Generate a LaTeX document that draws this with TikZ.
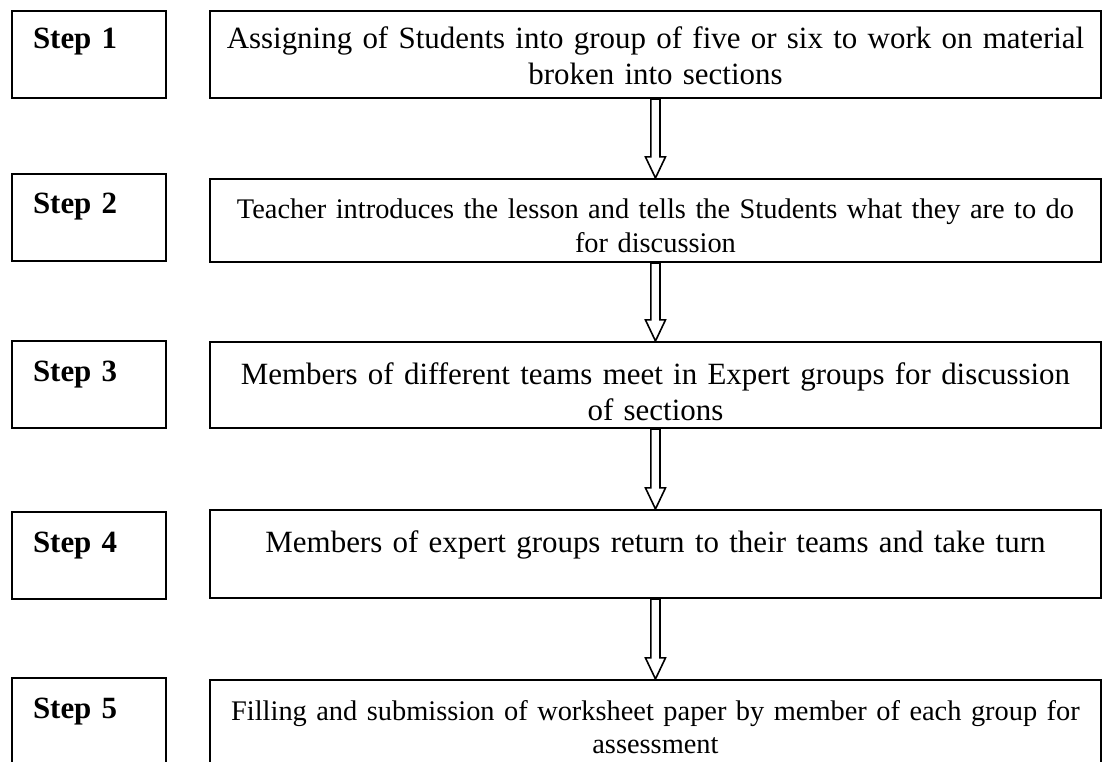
\documentclass[tikz,border=0pt]{standalone}
\usepackage{fontspec}
\setmainfont{Liberation Serif}
\usetikzlibrary{calc}

\begin{document}
\begin{tikzpicture}[
  x=0.375pt, y=-0.375pt,
  font=\fontsize{11.6}{13.6}\selectfont,
  stepbox/.style={draw, line width=0.75pt, anchor=north west,
                  inner xsep=7.875pt, inner ysep=0pt,
                  text width=42pt, align=left,
                  text height=15pt, text depth=17.625pt,
                  font=\fontsize{11.6}{13.6}\selectfont\bfseries},
  txtbox/.style={draw, line width=0.75pt, anchor=north west,
                 inner xsep=2.7pt, inner ysep=0pt,
                 text width=328.7pt, align=center,
                 text height=15pt, text depth=17.625pt},
  small/.style={font=\fontsize{10.65}{12.6}\selectfont},
  blockarr/.style={draw, line width=0.6pt, fill=white,
    to path={($(\tikztostart)+(-1.7pt,0)$)
      -- ($(\tikztotarget)+(-1.7pt,7.9pt)$)
      -- ($(\tikztotarget)+(-3.75pt,7.9pt)$)
      -- (\tikztotarget)
      -- ($(\tikztotarget)+(3.75pt,7.9pt)$)
      -- ($(\tikztotarget)+(1.7pt,7.9pt)$)
      -- ($(\tikztostart)+(1.7pt,0)$) -- cycle}}
]
\useasboundingbox (0,0) rectangle (1104,762);

% step labels
\node[stepbox, text height=14pt, text depth=18.625pt] (s1) at (11,10) {Step 1};
\node[stepbox] (s2) at (11,173) {Step 2};
\node[stepbox] (s3) at (11,340) {Step 3};
\node[stepbox] (s4) at (11,511) {Step 4};
\node[stepbox] (s5) at (11,677) {Step 5};

% activities
\node[txtbox, text height=14pt, text depth=18.625pt] (t1) at (209,10)
  {Assigning of Students into group of five or six to work on material\\broken into sections};
\node[txtbox, small, text depth=16.125pt] (t2) at (209,178)
  {Teacher introduces the lesson and tells the Students what they are to do\\for discussion};
\node[txtbox, text height=15.75pt, text depth=16.5pt] (t3) at (209,341)
  {Members of different teams meet in Expert groups for discussion\\of sections};
\node[txtbox, text height=15.75pt, text depth=17.25pt] (t4) at (209,509)
  {Members of expert groups return to their teams and take turn};
\node[txtbox, small] (t5) at (209,679)
  {Filling and submission of worksheet paper by member of each group for\\assessment};

\draw[blockarr] (t1.south) to (t2.north);
\draw[blockarr] (t2.south) to (t3.north);
\draw[blockarr] (t3.south) to (t4.north);
\draw[blockarr] (t4.south) to (t5.north);
\end{tikzpicture}
\end{document}
